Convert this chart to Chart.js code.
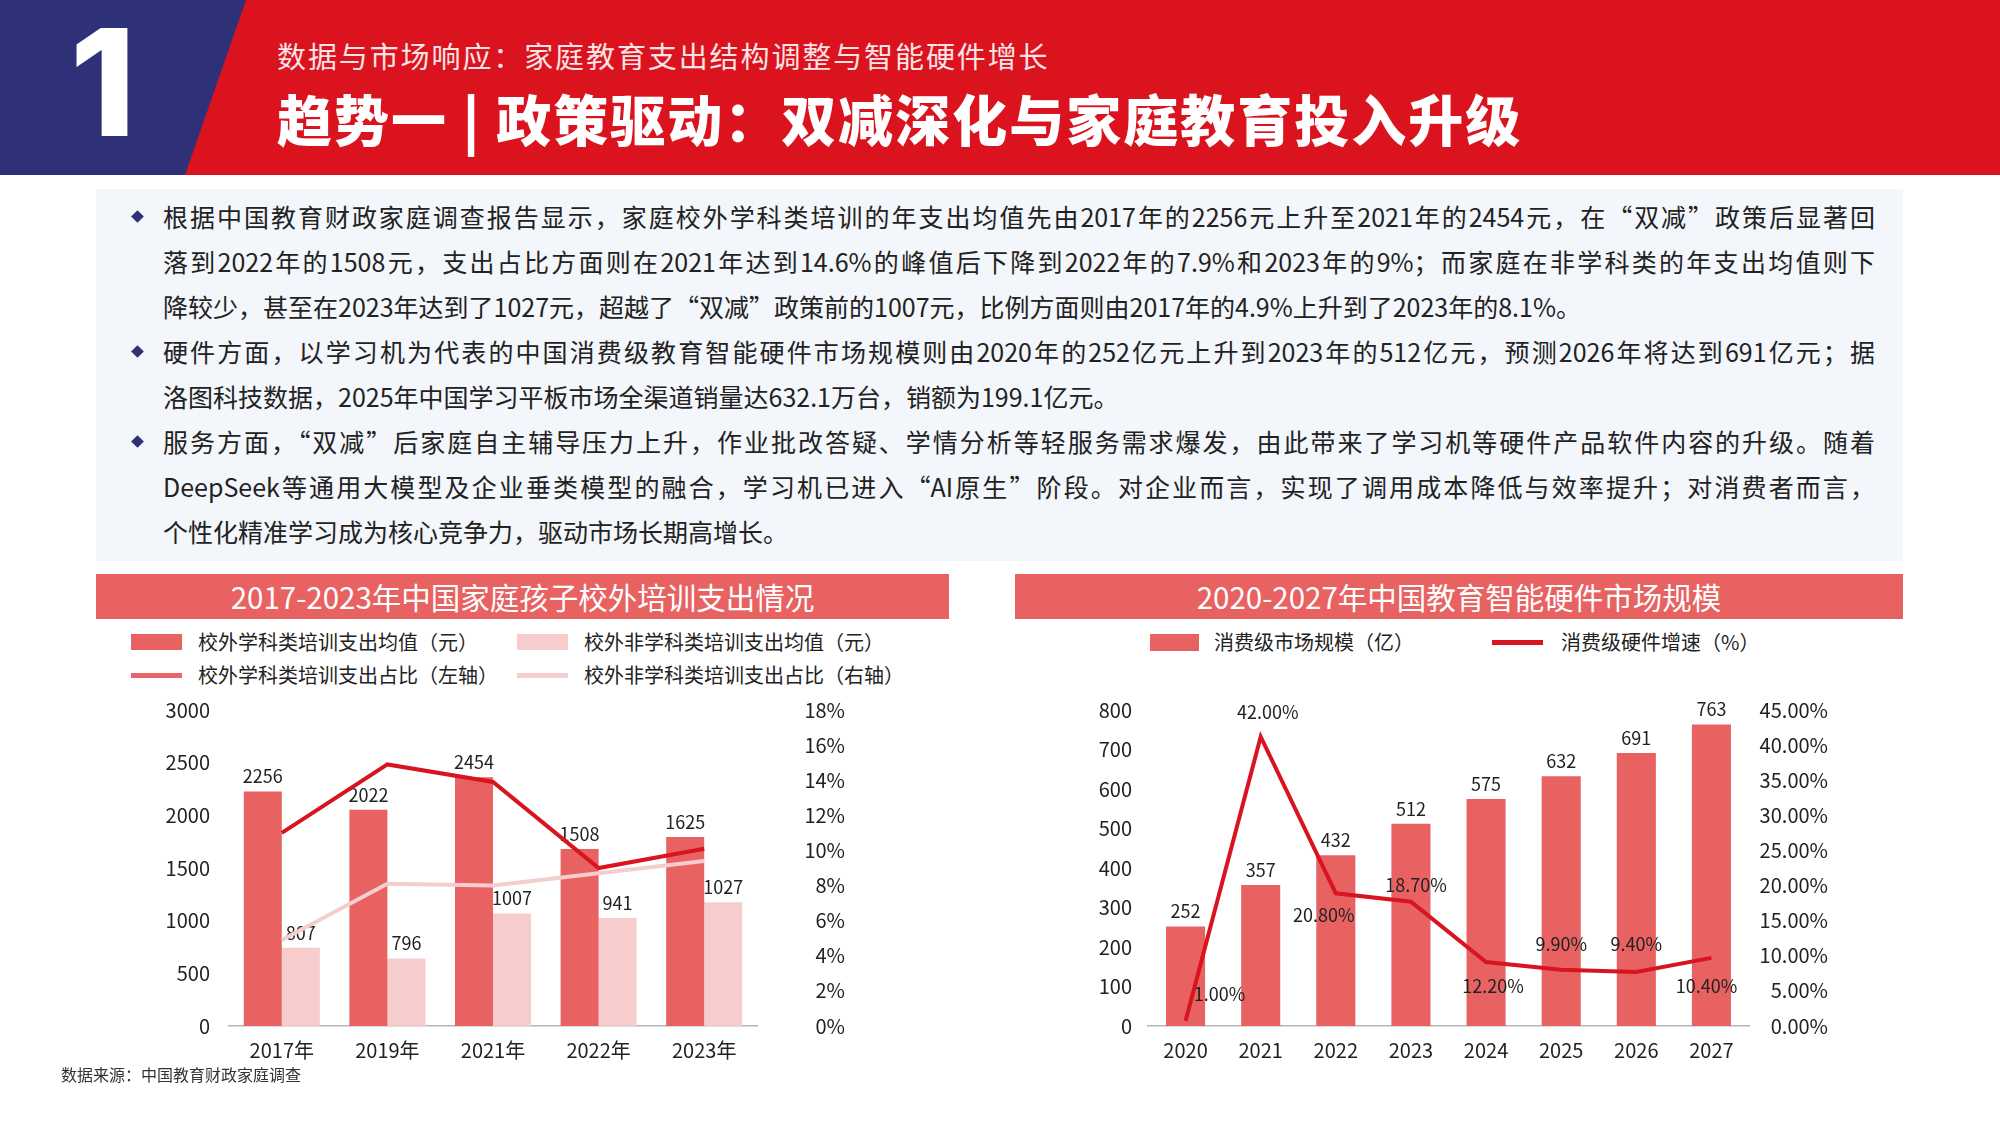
<!DOCTYPE html>
<html lang="zh-CN">
<head>
<meta charset="utf-8">
<title>趋势一 | 政策驱动：双减深化与家庭教育投入升级</title>
<script src="https://cdn.jsdelivr.net/npm/chart.js@4.4.1/dist/chart.umd.min.js"></script>
<style>
  html, body { margin: 0; padding: 0; }
  body {
    width: 2000px; height: 1125px; position: relative; overflow: hidden; background: #fff;
    font-family: "Noto Sans CJK SC", "Noto Sans", sans-serif; color: #222;
  }
  .abs { position: absolute; }
  #header { left: 0; top: 0; width: 2000px; height: 175px; background: #da131f; }
  #blue { left: 0; top: 0; width: 250px; height: 175px; background: #2e3178;
          clip-path: polygon(0 0, 246px 0, 185px 175px, 0 175px); }
  #num { left: 70px; top: 8px; font-family: Inter, "Liberation Sans", sans-serif; font-weight: 800;
         font-size: 149px; line-height: 149px; color: #fff; }
  #sub { left: 277px; top: 35px; font-size: 29px; line-height: 40px; color: #fbe4e5; letter-spacing: 1.9px; white-space: nowrap; }
  #title { left: 277px; top: 87px; font-size: 55px; line-height: 60px; font-weight: 900; color: #fff; letter-spacing: 2px; white-space: nowrap; }

  #panel { left: 96px; top: 189px; width: 1807px; height: 372px; background: #f3f6fb; }
  #text { left: 163px; top: 194px; width: 1712px; font-size: 25px; color: #222; }
  .ln { height: 45px; line-height: 45px; text-align: justify; text-align-last: justify; }
  .ln.end { text-align-last: left; }
  .dot { width: 9px; height: 9px; background: #2e3178; transform: rotate(45deg); }

  .ctitle { top: 574px; height: 45px; line-height: 45px; background: #e86262; color: #fff;
            font-size: 29.5px; text-align: center; }
  .lg { font-size: 20px; line-height: 28px; white-space: nowrap; }
  .box { height: 16px; }
  .bar-line { height: 5px; }
  .chartbox { top: 690px; height: 390px; }
  #src { left: 61px; top: 1062px; font-size: 16px; line-height: 24px; color: #333; }
</style>
</head>
<body>
<div id="header" class="abs"></div>
<div id="blue" class="abs"></div>
<div id="num" class="abs">1</div>
<div id="sub" class="abs">数据与市场响应：家庭教育支出结构调整与智能硬件增长</div>
<div id="title" class="abs">趋势一 | 政策驱动：双减深化与家庭教育投入升级</div>

<div id="panel" class="abs"></div>
<div class="abs dot" style="left:133px; top:212px;"></div>
<div class="abs dot" style="left:133px; top:347px;"></div>
<div class="abs dot" style="left:133px; top:437px;"></div>
<div id="text" class="abs">
  <div class="ln">根据中国教育财政家庭调查报告显示，家庭校外学科类培训的年支出均值先由2017年的2256元上升至2021年的2454元，在“双减”政策后显著回</div>
  <div class="ln">落到2022年的1508元，支出占比方面则在2021年达到14.6%的峰值后下降到2022年的7.9%和2023年的9%；而家庭在非学科类的年支出均值则下</div>
  <div class="ln end">降较少，甚至在2023年达到了1027元，超越了“双减”政策前的1007元，比例方面则由2017年的4.9%上升到了2023年的8.1%。</div>
  <div class="ln">硬件方面，以学习机为代表的中国消费级教育智能硬件市场规模则由2020年的252亿元上升到2023年的512亿元，预测2026年将达到691亿元；据</div>
  <div class="ln end">洛图科技数据，2025年中国学习平板市场全渠道销量达632.1万台，销额为199.1亿元。</div>
  <div class="ln">服务方面，“双减”后家庭自主辅导压力上升，作业批改答疑、学情分析等轻服务需求爆发，由此带来了学习机等硬件产品软件内容的升级。随着</div>
  <div class="ln">DeepSeek等通用大模型及企业垂类模型的融合，学习机已进入“AI原生”阶段。对企业而言，实现了调用成本降低与效率提升；对消费者而言，</div>
  <div class="ln end">个性化精准学习成为核心竞争力，驱动市场长期高增长。</div>
</div>

<!-- left chart -->
<div class="abs ctitle" style="left:96px; width:853px;">2017-2023年中国家庭孩子校外培训支出情况</div>
<div class="abs box" style="left:131px; top:634px; width:51px; background:#e86262;"></div>
<div class="abs lg" style="left:198px; top:628px;">校外学科类培训支出均值（元）</div>
<div class="abs box" style="left:517px; top:634px; width:51px; background:#f7cccc;"></div>
<div class="abs lg" style="left:584px; top:628px;">校外非学科类培训支出均值（元）</div>
<div class="abs bar-line" style="left:131px; top:673px; width:51px; background:#e8656a;"></div>
<div class="abs lg" style="left:198px; top:661px;">校外学科类培训支出占比（左轴）</div>
<div class="abs bar-line" style="left:517px; top:673px; width:51px; background:#f6d0d0;"></div>
<div class="abs lg" style="left:584px; top:661px;">校外非学科类培训支出占比（右轴）</div>
<div class="abs chartbox" style="left:96px; width:749px;"><canvas id="spendChart"></canvas></div>

<!-- right chart -->
<div class="abs ctitle" style="left:1015px; width:888px;">2020-2027年中国教育智能硬件市场规模</div>
<div class="abs box" style="left:1150px; top:634px; width:49px; height:17px; background:#e86262;"></div>
<div class="abs lg" style="left:1214px; top:628px;">消费级市场规模（亿）</div>
<div class="abs bar-line" style="left:1492px; top:640px; width:51px; background:#d7141f;"></div>
<div class="abs lg" style="left:1561px; top:628px;">消费级硬件增速（%）</div>
<div class="abs chartbox" style="left:1015px; width:813px;"><canvas id="hwChart"></canvas></div>

<div id="src" class="abs">数据来源：中国教育财政家庭调查</div>

<script>
// ---- left chart data ----
const spendYears = ['2017年', '2019年', '2021年', '2022年', '2023年'];
// bar heights as drawn in the picture, printed labels kept separately
const subjectSpend = [2226, 2053, 2362, 1680, 1794];
const subjectSpendText = ['2256', '2022', '2454', '1508', '1625'];
const otherSpend = [742, 641, 1067, 1026, 1175];
const otherSpendText = ['807', '796', '1007', '941', '1027'];
const subjectShare = [11.0, 14.9, 13.9, 9.0, 10.1];
const otherShare = [4.9, 8.1, 8.0, 8.7, 9.4];
const spendTicks = [0, 500, 1000, 1500, 2000, 2500, 3000];
const shareTicks = [0, 2, 4, 6, 8, 10, 12, 14, 16, 18];

// ---- right chart data ----
const hwYears = ['2020', '2021', '2022', '2023', '2024', '2025', '2026', '2027'];
const hwMarket = [252, 357, 432, 512, 575, 632, 691, 763];
const hwGrowth = [0.7, 41.2, 18.9, 17.7, 9.1, 8.0, 7.7, 9.7];
const hwGrowthText = ['1.00%', '42.00%', '20.80%', '18.70%', '12.20%', '9.90%', '9.40%', '10.40%'];
const hwTicks = [0, 100, 200, 300, 400, 500, 600, 700, 800];
const growthTicks = [0, 5, 10, 15, 20, 25, 30, 35, 40, 45];

// where each growth label sits relative to its point (px)
const growthLabelOffset = [[34, -27], [7, -25], [-12, 22], [5, -17], [7, 24], [0, -26], [0, -28], [-5, 28]];

const FONT = '"Noto Sans CJK SC", "Noto Sans", sans-serif';
const DARK = '#e86262';
const LIGHT = '#f7cccc';

Chart.defaults.font.family = FONT;
Chart.defaults.color = '#222';

const valueLabels = {
  id: 'valueLabels',
  afterDatasetDraw(chart, args) {
    const ds = chart.data.datasets[args.index];
    if (!ds.labelText) return;
    const ctx = chart.ctx;
    ctx.save();
    ctx.font = '18px ' + FONT;
    ctx.fillStyle = '#222';
    ctx.textAlign = 'center';
    args.meta.data.forEach((el, i) => {
      let x = el.x, y = el.y;
      if (ds.type === 'bar') {
        ctx.textBaseline = 'bottom';
        y -= 6;
      } else {
        const o = ds.labelOffset[i];
        x += o[0];
        y += o[1];
        ctx.textBaseline = 'middle';
      }
      ctx.fillText(ds.labelText[i], x, y);
    });
    ctx.restore();
  }
};

// fixed axis sizes; tick padding must not push the plot area around
function fixW(w) { return s => { s.width = w; s.paddingTop = 0; s.paddingBottom = 0; }; }
function fixH(h) { return s => { s.height = h; }; }
function fromList(list) {
  return s => { s.ticks = list.map(v => ({ value: v })); };
}

function yAxis(list, pos, width, pad, fmt, cross) {
  return {
    type: 'linear',
    position: pos,
    min: list[0],
    max: list[list.length - 1],
    afterBuildTicks: fromList(list),
    afterFit: fixW(width),
    grid: { display: false, drawTicks: false },
    border: { display: false },
    ticks: {
      padding: pad,
      crossAlign: cross || 'near',
      font: { size: 20 },
      color: '#222',
      callback: fmt || (v => v)
    }
  };
}

function xAxis() {
  return {
    afterFit: fixH(54),
    grid: { display: false, drawTicks: false },
    border: { display: true, color: '#b5b5b5', width: 1.5 },
    ticks: { padding: 12, font: { size: 20 }, color: '#222', maxRotation: 0 }
  };
}

new Chart(document.getElementById('spendChart'), {
  data: {
    labels: spendYears,
    datasets: [
      { type: 'line', label: '校外学科类培训支出占比（左轴）', data: subjectShare, yAxisID: 'y1',
        borderColor: '#d7141f', borderWidth: 4, pointRadius: 0, tension: 0, order: 0 },
      { type: 'line', label: '校外非学科类培训支出占比（右轴）', data: otherShare, yAxisID: 'y1',
        borderColor: '#f6cdcd', borderWidth: 4, pointRadius: 0, tension: 0, order: 0 },
      { type: 'bar', label: '校外学科类培训支出均值（元）', data: subjectSpend, yAxisID: 'y',
        backgroundColor: DARK, categoryPercentage: 0.72, barPercentage: 1, labelText: subjectSpendText, order: 1 },
      { type: 'bar', label: '校外非学科类培训支出均值（元）', data: otherSpend, yAxisID: 'y',
        backgroundColor: LIGHT, categoryPercentage: 0.72, barPercentage: 1, labelText: otherSpendText, order: 1 }
    ]
  },
  options: {
    responsive: true,
    maintainAspectRatio: false,
    animation: false,
    devicePixelRatio: 1,
    layout: { padding: { top: 20, left: 0, right: 0, bottom: 0 } },
    plugins: { legend: { display: false }, tooltip: { enabled: false } },
    scales: {
      x: xAxis(),
      y: yAxis(spendTicks, 'left', 133, 19),
      y1: yAxis(shareTicks, 'right', 88, 0, v => v + '%', 'far')
    }
  },
  plugins: [valueLabels]
});

new Chart(document.getElementById('hwChart'), {
  data: {
    labels: hwYears,
    datasets: [
      { type: 'line', label: '消费级硬件增速（%）', data: hwGrowth, yAxisID: 'y1',
        borderColor: '#d7141f', borderWidth: 4, pointRadius: 0, tension: 0, order: 0,
        labelText: hwGrowthText, labelOffset: growthLabelOffset },
      { type: 'bar', label: '消费级市场规模（亿）', data: hwMarket, yAxisID: 'y',
        backgroundColor: DARK, categoryPercentage: 0.52, barPercentage: 1,
        labelText: hwMarket.map(String), order: 1 }
    ]
  },
  options: {
    responsive: true,
    maintainAspectRatio: false,
    animation: false,
    devicePixelRatio: 1,
    layout: { padding: { top: 20, left: 0, right: 0, bottom: 0 } },
    plugins: { legend: { display: false }, tooltip: { enabled: false } },
    scales: {
      x: xAxis(),
      y: yAxis(hwTicks, 'left', 133, 16),
      y1: yAxis(growthTicks, 'right', 79, 0, v => v.toFixed(2) + '%', 'far')
    }
  },
  plugins: [valueLabels]
});
</script>
</body>
</html>
